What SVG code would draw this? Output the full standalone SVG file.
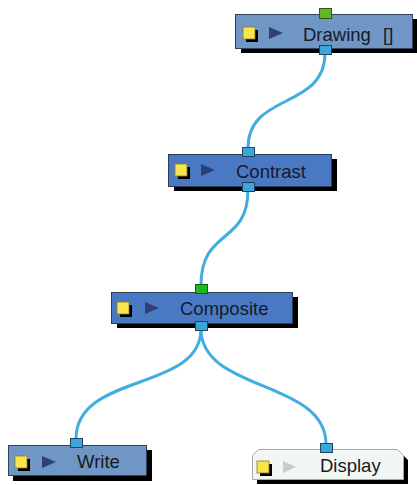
<svg xmlns="http://www.w3.org/2000/svg" width="417" height="485" viewBox="0 0 417 485">
<style>
.shadow{fill:#000}
.boxA{fill:#7096c4;stroke:#33435e;stroke-width:1}
.boxB{fill:#4a79c4;stroke:#2c3b5a;stroke-width:1}
.boxD{fill:#f3f7f3;stroke:#a5aca5;stroke-width:1}
.ysh{fill:#000}
.yel{fill:#f7e44e;stroke:#8c7e1e;stroke-width:0.8}
.tri{fill:#2f3f78}
.triD{fill:#c9cbc9}
.lbl{font-family:"Liberation Sans",Arial,sans-serif;font-size:18.5px;fill:#151a28}
.pB{fill:#3aa6da;stroke:#20445c;stroke-width:1}
.pG{fill:#63b52a;stroke:#2f5a14;stroke-width:1}
.pG2{fill:#22b622;stroke:#145a14;stroke-width:1}
.wire{fill:none;stroke:#42ade0;stroke-width:3;stroke-linecap:round}
</style>
<rect width="417" height="485" fill="#ffffff"/>
<g id="connectors">
<path class="wire" d="M325,53 C325,110 248,92 248,148"/>
<path class="wire" d="M248,190 C248,245 201,228 201,285"/>
<path class="wire" d="M201,329 C201,392 76,372 76,439"/>
<path class="wire" d="M201,329 C201,392 326,380 326,444"/>
</g>
<g id="node-drawing">
<rect class="shadow" x="241" y="19" width="176" height="34"/>
<rect class="boxA" x="235.5" y="14.5" width="177" height="34"/>
<rect class="ysh" x="246" y="30" width="12" height="12"/>
<rect class="yel" x="243" y="27" width="12" height="12"/>
<polygon class="tri" points="269,27 283,33 269,39"/>
<text class="lbl" x="303" y="41" word-spacing="7">Drawing []</text>
<rect class="pG" x="319.5" y="8.5" width="12" height="10"/>
<rect class="pB" x="319.5" y="45.5" width="12" height="9"/>
</g>
<g id="node-contrast">
<rect class="shadow" x="174" y="159" width="163" height="32"/>
<rect class="boxB" x="168.5" y="154.5" width="163" height="32"/>
<rect class="ysh" x="178" y="167" width="12" height="12"/>
<rect class="yel" x="175" y="164" width="12" height="12"/>
<polygon class="tri" points="201,164 215,170 201,176"/>
<text class="lbl" x="236" y="178">Contrast</text>
<rect class="pB" x="242.5" y="147.5" width="12" height="9"/>
<rect class="pB" x="242.5" y="182.5" width="12" height="9"/>
</g>
<g id="node-composite">
<rect class="shadow" x="117" y="297" width="181" height="31"/>
<rect class="boxB" x="111.5" y="292.5" width="181" height="31"/>
<rect class="ysh" x="120" y="305" width="12" height="12"/>
<rect class="yel" x="117" y="302" width="12" height="12"/>
<polygon class="tri" points="145,302 159,308 145,314"/>
<text class="lbl" x="180" y="315">Composite</text>
<rect class="pG2" x="195.5" y="284.5" width="12" height="9"/>
<rect class="pB" x="195.5" y="321.5" width="12" height="9"/>
</g>
<g id="node-write">
<rect class="shadow" x="13" y="450" width="139" height="31"/>
<rect class="boxA" x="8.5" y="445.5" width="138" height="30"/>
<rect class="ysh" x="18" y="459" width="12" height="12"/>
<rect class="yel" x="15" y="456" width="12" height="12"/>
<polygon class="tri" points="42,456 56,462 42,468"/>
<text class="lbl" x="77" y="468">Write</text>
<rect class="pB" x="70.5" y="438.5" width="12" height="9"/>
</g>
<g id="node-display">
<path class="shadow" d="M263,454 L402,454 L408,460 L408,484 L257,484 L257,460 Z"/>
<path class="boxD" d="M258.5,449.5 L397.5,449.5 L403.5,455.5 L403.5,479.5 L252.5,479.5 L252.5,455.5 Z"/>
<rect class="ysh" x="260" y="464" width="12" height="12"/>
<rect class="yel" x="257" y="461" width="12" height="12"/>
<polygon class="triD" points="283,461 296,467 283,473"/>
<text class="lbl" x="320" y="472">Display</text>
<rect class="pB" x="320.5" y="443.5" width="12" height="9"/>
</g>
</svg>
